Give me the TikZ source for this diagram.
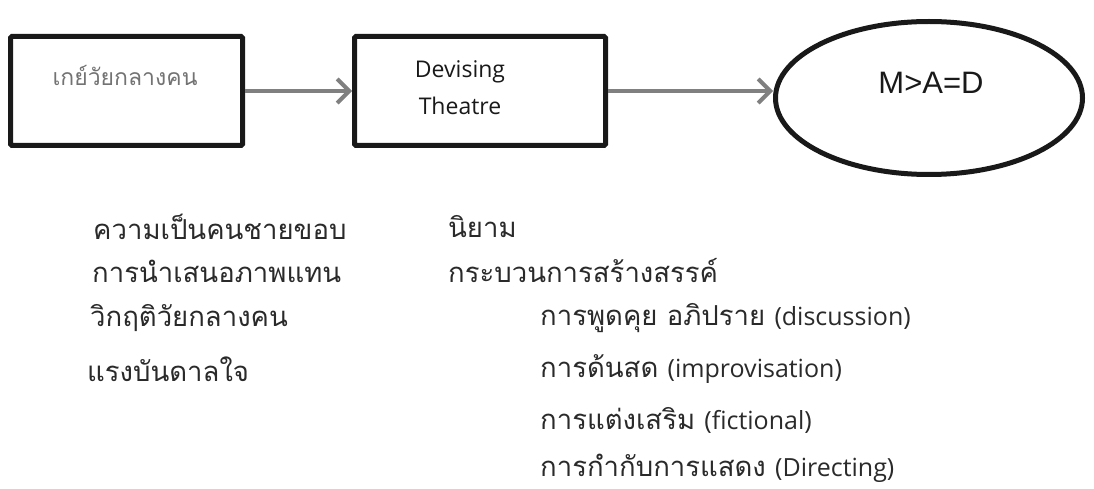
\documentclass[tikz,border=0pt]{standalone}
\usepackage{fontspec}
\usetikzlibrary{arrows.meta,shapes.geometric}
\newfontfamily\thaifont[Script=Thai]{Loma}
\newfontfamily\latinsans{Liberation Sans}
\newfontfamily\opensans{Open Sans}
\newcommand\latpart[1]{{\opensans\fontsize{25}{30}\selectfont #1}}
\definecolor{arrowgray}{HTML}{808080}
\definecolor{txt}{HTML}{2A2A2A}
\begin{document}
\begin{tikzpicture}[x=1pt,y=-1pt,
  boxnode/.style={draw=black!90,line width=5pt,rounded corners=1.5pt,minimum width=232pt,minimum height=109pt,inner sep=0pt},
  ellnode/.style={draw=black!90,ellipse,line width=5pt,minimum width=307pt,minimum height=153pt,inner sep=0pt},
  conn/.style={draw=arrowgray,line width=4pt,-{Straight Barb[length=12pt,width=24pt,line width=4pt]}},
  listtxt/.style={anchor=west,inner sep=0pt,text=txt,font=\thaifont\fontsize{27.5}{32}\selectfont}
]
\useasboundingbox (0,0) rectangle (1094,489);
\node[boxnode] (b1) at (126.5,91) {};
\node[boxnode,minimum width=251pt] (b2) at (480,91) {};
\node[ellnode] (el) at (929,98) {};
\node[anchor=center,inner sep=0pt,text=black!55,font=\thaifont\fontsize{23}{27}\selectfont] (t1) at (125,75) {เกย์วัยกลางคน};
\node[align=center,inner sep=0pt,text=black!90,font=\opensans\fontsize{23}{37}\selectfont] (t2) at (460,88) {Devising\\Theatre};
\node[inner sep=0pt,text=black!90,font=\latinsans\fontsize{31}{35}\selectfont] (t3) at (931,83) {M>A=D};
\draw[conn] (b1.east) -- (b2.west);
\draw[conn] (b2.east) -- (el.west |- b2.east);
\node[listtxt] (l1) at (93,227) {ความเป็นคนชายขอบ};
\node[listtxt] (l2) at (92,271) {การนำเสนอภาพแทน};
\node[listtxt] (l3) at (90,318) {วิกฤติวัยกลางคน};
\node[listtxt] (l4) at (87,369) {แรงบันดาลใจ};
\node[listtxt] (r1) at (448,227) {นิยาม};
\node[listtxt] (r2) at (448,271) {กระบวนการสร้างสรรค์};
\node[listtxt] (s1) at (540,318) {การพูดคุย อภิปราย \latpart{(discussion)}};
\node[listtxt] (s2) at (540,369) {การด้นสด \latpart{(improvisation)}};
\node[listtxt] (s3) at (540,420) {การแต่งเสริม \latpart{(fictional)}};
\node[listtxt] (s4) at (540,468) {การกำกับการแสดง \latpart{(Directing)}};
\end{tikzpicture}
\end{document}
